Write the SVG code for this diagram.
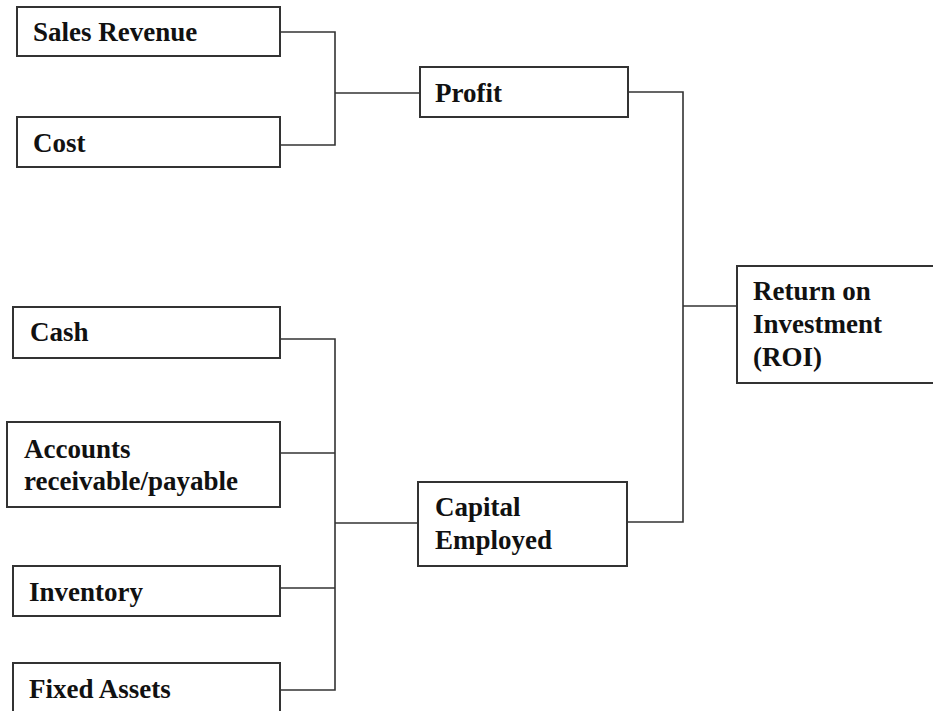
<svg xmlns="http://www.w3.org/2000/svg" width="933" height="711" viewBox="0 0 933 711">
<style>
.box{fill:#fff;stroke:#333;stroke-width:2}
.t{font-family:"Liberation Serif","Times New Roman",serif;font-weight:bold;font-size:27px;fill:#111}
.c{fill:none;stroke:#333;stroke-width:1.6}
</style>
<rect width="933" height="711" fill="#fff"/>
<g id="connectors">
<polyline class="c" points="280,32 335,32 335,145 280,145"/>
<line class="c" x1="335" y1="93" x2="420" y2="93"/>
<polyline class="c" points="628,92 683,92 683,522 627,522"/>
<line class="c" x1="683" y1="306" x2="737" y2="306"/>
<polyline class="c" points="280,339 335,339 335,690 280,690"/>
<line class="c" x1="280" y1="453" x2="335" y2="453"/>
<line class="c" x1="277" y1="588" x2="335" y2="588"/>
<line class="c" x1="335" y1="523" x2="418" y2="523"/>
</g>
<g id="sales-revenue"><rect class="box" x="17" y="7" width="263" height="49"/><text class="t" x="33" y="41">Sales Revenue</text></g>
<g id="cost"><rect class="box" x="17" y="117" width="263" height="50"/><text class="t" x="33" y="152">Cost</text></g>
<g id="profit"><rect class="box" x="420" y="67" width="208" height="50"/><text class="t" x="435" y="102">Profit</text></g>
<g id="roi"><rect class="box" x="737" y="266" width="197" height="117"/><text class="t" x="753" y="300">Return on</text><text class="t" x="753" y="333">Investment</text><text class="t" x="753" y="366">(ROI)</text></g>
<g id="cash"><rect class="box" x="13" y="307" width="267" height="51"/><text class="t" x="30" y="341">Cash</text></g>
<g id="accounts"><rect class="box" x="7" y="422" width="273" height="85"/><text class="t" x="24" y="458">Accounts</text><text class="t" x="24" y="490">receivable/payable</text></g>
<g id="inventory"><rect class="box" x="13" y="566" width="267" height="50"/><text class="t" x="29" y="601">Inventory</text></g>
<g id="fixed-assets"><rect class="box" x="13" y="663" width="267" height="60"/><text class="t" x="29" y="698">Fixed Assets</text></g>
<g id="capital-employed"><rect class="box" x="418" y="482" width="209" height="84"/><text class="t" x="435" y="516">Capital</text><text class="t" x="435" y="549">Employed</text></g>
</svg>
